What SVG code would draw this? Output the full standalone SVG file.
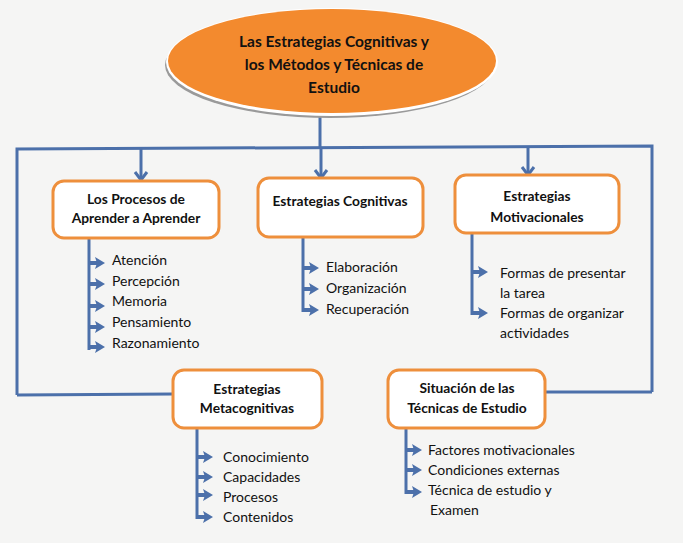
<svg xmlns="http://www.w3.org/2000/svg" width="683" height="543" viewBox="0 0 683 543">
<style>
.bg{fill:#f5f5f4}
.box{fill:#ffffff;stroke:#ee8f3c;stroke-width:3}
.t{font-family:Lato,"Liberation Sans",sans-serif;fill:#111;text-anchor:middle}
.b{font-weight:bold;font-size:13.8px}
.h{font-weight:bold;font-size:15.5px}
.i{font-family:Lato,"Liberation Sans",sans-serif;fill:#111;font-size:14px}
.ln{fill:none;stroke:#4c70aa;stroke-width:3}
.dn{fill:none;stroke:#4c70aa;stroke-width:3;marker-end:url(#v)}
.it{fill:none;stroke:#4c70aa;stroke-width:4;marker-end:url(#blk)}
</style>
<defs>
<marker id="v" markerUnits="userSpaceOnUse" markerWidth="16" markerHeight="14" refX="8" refY="11" orient="0" viewBox="0 0 16 14">
<path d="M2,3 L8,11 L14,3" fill="none" stroke="#4c70aa" stroke-width="3"/>
</marker>
<marker id="blk" markerUnits="userSpaceOnUse" markerWidth="10" markerHeight="12" refX="2" refY="6" orient="auto" viewBox="0 0 10 12">
<path d="M0,0 L10,6 L0,12 L2,6 Z" fill="#4c70aa"/>
</marker>
</defs>
<rect class="bg" x="0" y="0" width="683" height="543"/>

<g id="connectors">
<line class="ln" x1="320" y1="114" x2="320" y2="148"/>
<polyline class="ln" points="17,395 17,149 652,146 652,392"/>
<line class="ln" x1="17" y1="395" x2="173" y2="394"/>
<line class="ln" x1="545" y1="392" x2="652" y2="392"/>
<line class="dn" x1="141" y1="149" x2="141" y2="180"/>
<line class="dn" x1="321" y1="148" x2="321" y2="178"/>
<line class="dn" x1="528" y1="146" x2="528" y2="175"/>
<line class="ln" x1="89" y1="238" x2="89" y2="350"/>
<line class="it" x1="89" y1="263" x2="97" y2="263"/>
<line class="it" x1="89" y1="284" x2="97" y2="284"/>
<line class="it" x1="89" y1="306" x2="97" y2="306"/>
<line class="it" x1="89" y1="327" x2="97" y2="327"/>
<line class="it" x1="89" y1="347" x2="97" y2="347"/>
<line class="ln" x1="303" y1="238" x2="303" y2="312"/>
<line class="it" x1="303" y1="268" x2="311" y2="268"/>
<line class="it" x1="303" y1="289" x2="311" y2="289"/>
<line class="it" x1="303" y1="310" x2="311" y2="310"/>
<line class="ln" x1="472" y1="233" x2="472" y2="315"/>
<line class="it" x1="472" y1="272" x2="480" y2="272"/>
<line class="it" x1="472" y1="313" x2="480" y2="313"/>
<line class="ln" x1="197" y1="428" x2="197" y2="519"/>
<line class="it" x1="197" y1="457" x2="205" y2="457"/>
<line class="it" x1="197" y1="477" x2="205" y2="477"/>
<line class="it" x1="197" y1="495" x2="205" y2="495"/>
<line class="it" x1="197" y1="517" x2="205" y2="517"/>
<line class="ln" x1="406" y1="428" x2="406" y2="494"/>
<line class="it" x1="406" y1="450" x2="414" y2="450"/>
<line class="it" x1="406" y1="470" x2="414" y2="470"/>
<line class="it" x1="406" y1="492" x2="414" y2="492"/>
</g>

<g id="title">
<ellipse cx="330" cy="65" rx="165" ry="53" fill="#9a9a9a"/>
<ellipse cx="332" cy="62" rx="166" ry="54" fill="#ffffff"/>
<ellipse cx="332" cy="61" rx="164" ry="52" fill="#f38a2e"/>
<text class="t h" x="334" y="47">Las Estrategias Cognitivas  y</text>
<text class="t h" x="334" y="70">los Métodos y Técnicas de</text>
<text class="t h" x="334" y="93">Estudio</text>
</g>

<g id="procesos">
<rect class="box" x="53" y="181" width="166" height="57" rx="11"/>
<text class="t b" x="136" y="204">Los Procesos de</text>
<text class="t b" x="136" y="223">Aprender a Aprender</text>
<text class="i" x="112" y="265">Atención</text>
<text class="i" x="112" y="286">Percepción</text>
<text class="i" x="112" y="306">Memoria</text>
<text class="i" x="112" y="327">Pensamiento</text>
<text class="i" x="112" y="348">Razonamiento</text>
</g>

<g id="cognitivas">
<rect class="box" x="258" y="178" width="165" height="59" rx="11"/>
<text class="t b" x="340" y="206">Estrategias Cognitivas</text>
<text class="i" x="326" y="272">Elaboración</text>
<text class="i" x="326" y="293">Organización</text>
<text class="i" x="326" y="314">Recuperación</text>
</g>

<g id="motivacionales">
<rect class="box" x="455" y="175" width="164" height="58" rx="11"/>
<text class="t b" x="537" y="201">Estrategias</text>
<text class="t b" x="537" y="222">Motivacionales</text>
<text class="i" x="500" y="278">Formas de presentar</text>
<text class="i" x="500" y="298">la tarea</text>
<text class="i" x="500" y="318">Formas de organizar</text>
<text class="i" x="500" y="338">actividades</text>
</g>

<g id="metacognitivas">
<rect class="box" x="173" y="370" width="149" height="58" rx="11"/>
<text class="t b" x="247" y="394">Estrategias</text>
<text class="t b" x="247" y="413">Metacognitivas</text>
<text class="i" x="223" y="462">Conocimiento</text>
<text class="i" x="223" y="482">Capacidades</text>
<text class="i" x="223" y="502">Procesos</text>
<text class="i" x="223" y="522">Contenidos</text>
</g>

<g id="situacion">
<rect class="box" x="388" y="370" width="157" height="58" rx="11"/>
<text class="t b" x="467" y="393">Situación de las</text>
<text class="t b" x="467" y="413">Técnicas de Estudio</text>
<text class="i" x="428" y="455">Factores motivacionales</text>
<text class="i" x="428" y="475">Condiciones externas</text>
<text class="i" x="428" y="495">Técnica de estudio y</text>
<text class="i" x="430" y="515">Examen</text>
</g>
</svg>
